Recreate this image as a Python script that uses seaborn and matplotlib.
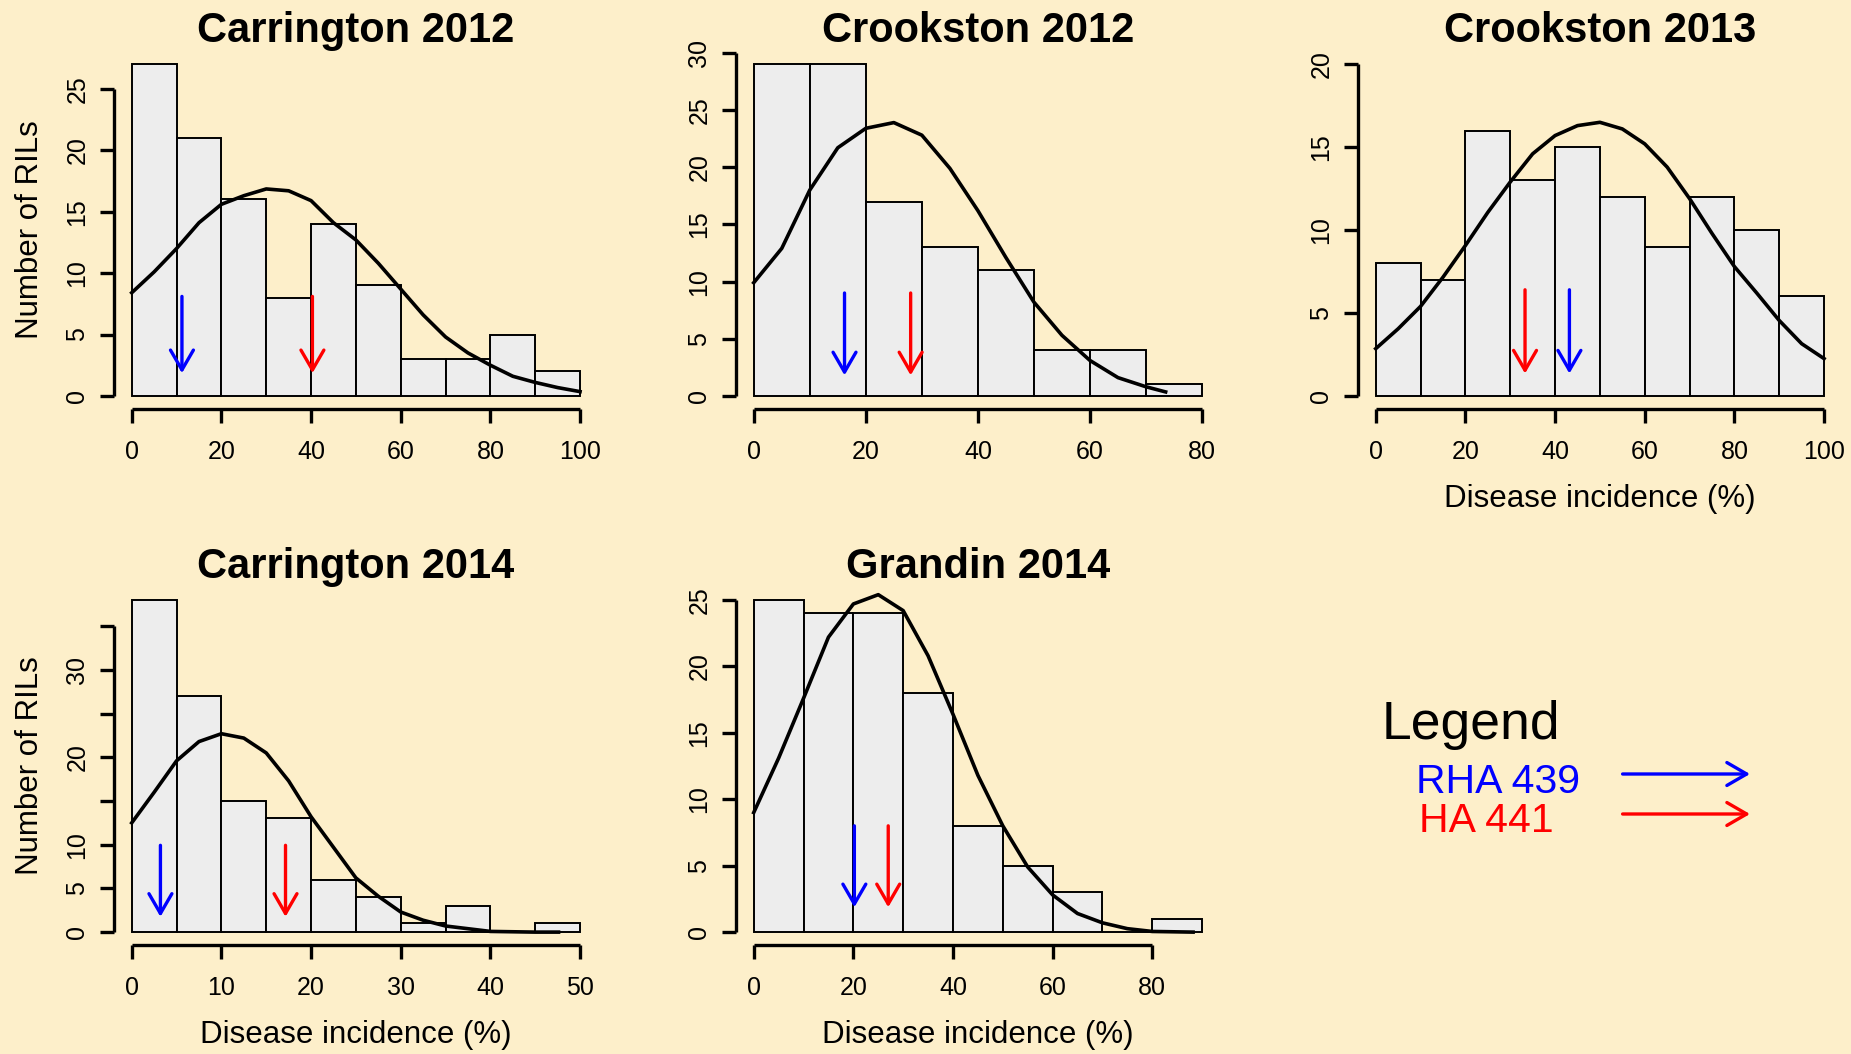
import matplotlib
matplotlib.use("Agg")
import matplotlib.pyplot as plt
import seaborn as sns

# ------------------------- data -------------------------
titles = ["Carrington 2012", "Crookston 2012", "Crookston 2013",
          "Carrington 2014", "Grandin 2014"]

# Carrington 2012
ca12_edges = [0, 10, 20, 30, 40, 50, 60, 70, 80, 90, 100]
ca12_counts = [27, 21, 16, 8, 14, 9, 3, 3, 5, 2]
ca12_curve_x = [0, 5, 10, 15, 20, 25, 30, 35, 40, 45, 50, 55, 60, 65, 70, 75, 80, 85, 90, 95, 100]
ca12_curve_y = [8.4, 10.1, 12.0, 14.1, 15.6, 16.3, 16.85, 16.7, 15.9, 14.1, 12.7, 10.8, 8.7, 6.6,
                4.8, 3.5, 2.5, 1.6, 1.1, 0.68, 0.35]
ca12_rha = 11.2
ca12_ha = 40.3
ca12_arrow_y = [8.1, 1.85]

# Crookston 2012
cr12_edges = [0, 10, 20, 30, 40, 50, 60, 70, 80]
cr12_counts = [29, 29, 17, 13, 11, 4, 4, 1]
cr12_curve_x = [0, 5, 10, 15, 20, 25, 30, 35, 40, 45, 50, 55, 60, 65, 70, 73.5]
cr12_curve_y = [9.9, 12.9, 18.0, 21.7, 23.4, 23.9, 22.8, 19.9, 16.2, 12.1, 8.2, 5.3, 3.1, 1.6, 0.8, 0.35]
cr12_rha = 16.2
cr12_ha = 28.0
cr12_arrow_y = [9.0, 1.8]

# Crookston 2013
cr13_edges = [0, 10, 20, 30, 40, 50, 60, 70, 80, 90, 100]
cr13_counts = [8, 7, 16, 13, 15, 12, 9, 12, 10, 6]
cr13_curve_x = [0, 5, 10, 15, 20, 25, 30, 35, 40, 45, 50, 55, 60, 65, 70, 75, 80, 85, 90, 95, 100]
cr13_curve_y = [2.85, 4.05, 5.4, 7.16, 9.07, 11.07, 12.9, 14.6, 15.7, 16.3, 16.5, 16.1, 15.2, 13.8,
                11.9, 9.8, 7.8, 6.2, 4.55, 3.15, 2.25]
cr13_rha = 43.2
cr13_ha = 33.3
cr13_arrow_y = [6.4, 1.35]

# Carrington 2014
ca14_edges = [0, 5, 10, 15, 20, 25, 30, 35, 40, 45, 50]
ca14_counts = [38, 27, 15, 13, 6, 4, 1, 3, 0, 1]
ca14_curve_x = [0, 2.5, 5, 7.5, 10, 12.5, 15, 17.5, 20, 22.5, 25, 27.5, 30, 32.5, 35, 37.5, 40, 45, 47.6]
ca14_curve_y = [12.5, 16.0, 19.6, 21.8, 22.7, 22.2, 20.5, 17.3, 13.2, 9.7, 6.2, 4.1, 2.3, 1.36,
                0.7, 0.39, 0.08, 0.0, 0.0]
ca14_rha = 3.2
ca14_ha = 17.15
ca14_arrow_y = [9.93, 1.75]

# Grandin 2014
gr14_edges = [0, 10, 20, 30, 40, 50, 60, 70, 80, 90]
gr14_counts = [25, 24, 24, 18, 8, 5, 3, 0, 1]
gr14_curve_x = [0, 5, 10, 15, 20, 25, 30, 35, 40, 45, 50, 55, 60, 65, 70, 75, 80, 88.2]
gr14_curve_y = [9.0, 13.1, 17.6, 22.2, 24.7, 25.4, 24.2, 20.8, 16.4, 11.8, 8.0, 4.9, 2.8, 1.4,
                0.7, 0.26, 0.05, 0.0]
gr14_rha = 20.2
gr14_ha = 27.0
gr14_arrow_y = [8.0, 1.87]

# axis ticks / ranges
y_tops = [27, 29, 20, 38, 25]
ca12_yticks = [0, 5, 10, 15, 20, 25]
cr12_yticks = [0, 5, 10, 15, 20, 25, 30]
cr13_yticks = [0, 5, 10, 15, 20]
ca14_yticks = [0, 5, 10, 15, 20, 25, 30, 35]
ca14_ylabels = ["0", "5", "10", "", "20", "", "30", ""]
gr14_yticks = [0, 5, 10, 15, 20, 25]
ca12_xticks = [0, 20, 40, 60, 80, 100]
cr12_xticks = [0, 20, 40, 60, 80]
cr13_xticks = [0, 20, 40, 60, 80, 100]
ca14_xticks = [0, 10, 20, 30, 40, 50]
gr14_xticks = [0, 20, 40, 60, 80]

y_label = "Number of RILs"
x_label = "Disease incidence (%)"
legend_title = "Legend"
legend_labels = ["RHA 439", "HA 441"]
legend_colors = ["blue", "red"]

# ------------------------- style -------------------------
BG = "#FDEFCA"
BAR = "#EDEDED"
plt.rcParams["font.family"] = ["Liberation Sans", "DejaVu Sans"]

W, H = 1851, 1054
fig = plt.figure(figsize=(W / 100, H / 100), dpi=100, facecolor=BG)

col_left = [113.8, 735.8, 1357.8]
col_w = 484.2
row_top = [51.0, 586.7]
row_h = [358.2, 358.7]


def make_ax(r, c):
    left = col_left[c] / W
    bottom = 1 - (row_top[r] + row_h[r]) / H
    ax = fig.add_axes([left, bottom, col_w / W, row_h[r] / H])
    ax.set_facecolor(BG)
    return ax


def arrow(ax, x, y0, y1, color):
    ax.annotate("", xy=(x, y1), xytext=(x, y0),
                arrowprops=dict(arrowstyle="->,head_length=0.95,head_width=0.55",
                                color=color, lw=2.4, shrinkA=0, shrinkB=0,
                                mutation_scale=15))


def panel(r, c, title, edges, counts, cx, cy, rha, ha, ay, ytop, yticks, xticks,
          ylabels=None, show_ylabel=False, show_xlabel=False):
    ax = make_ax(r, c)
    centers = [(a + b) / 2 for a, b in zip(edges[:-1], edges[1:])]
    sns.histplot(x=centers, weights=counts, bins=edges, ax=ax, color=BAR,
                 edgecolor="black", linewidth=1.4, alpha=1)
    sns.lineplot(x=cx, y=cy, ax=ax, color="black", linewidth=2.6,
                 sort=False, estimator=None)
    arrow(ax, rha, ay[0], ay[1], "blue")
    arrow(ax, ha, ay[0], ay[1], "red")

    xr = edges[-1] - edges[0]
    ax.set_xlim(edges[0] - 0.04 * xr, edges[-1] + 0.04 * xr)
    ax.set_ylim(-0.04 * ytop, 1.04 * ytop)
    ax.spines[["top", "right"]].set_visible(False)
    for s in ("left", "bottom"):
        ax.spines[s].set_linewidth(2.4)
        ax.spines[s].set_capstyle("butt")
    ax.spines["left"].set_bounds(yticks[0], yticks[-1])
    ax.spines["bottom"].set_bounds(xticks[0], xticks[-1])

    ax.set_xticks(xticks)
    ax.set_yticks(yticks, labels=ylabels if ylabels is not None else [str(v) for v in yticks])
    ax.tick_params(axis="both", length=10, width=2.4, labelsize=18, color="black")
    ax.tick_params(axis="x", pad=12)
    ax.tick_params(axis="y", pad=7.5)
    for lbl in ax.get_yticklabels():
        lbl.set_rotation(90)
        lbl.set_va("center")

    ax.set_title(title, fontsize=30, fontweight="bold", pad=2.8)
    if show_ylabel:
        ax.set_ylabel(y_label, fontsize=22.5)
        ax.yaxis.label.set_va("baseline")
        ax.yaxis.set_label_coords((37.6 - col_left[c]) / col_w, 0.5)
    else:
        ax.set_ylabel("")
    if show_xlabel:
        ax.set_xlabel(x_label, fontsize=22.5)
        ax.xaxis.label.set_va("baseline")
        ax.xaxis.set_label_coords(0.5, -97.5 / row_h[r])
    else:
        ax.set_xlabel("")
    return ax


panel(0, 0, titles[0], ca12_edges, ca12_counts, ca12_curve_x, ca12_curve_y,
      ca12_rha, ca12_ha, ca12_arrow_y, y_tops[0], ca12_yticks, ca12_xticks, show_ylabel=True)
panel(0, 1, titles[1], cr12_edges, cr12_counts, cr12_curve_x, cr12_curve_y,
      cr12_rha, cr12_ha, cr12_arrow_y, y_tops[1], cr12_yticks, cr12_xticks)
panel(0, 2, titles[2], cr13_edges, cr13_counts, cr13_curve_x, cr13_curve_y,
      cr13_rha, cr13_ha, cr13_arrow_y, y_tops[2], cr13_yticks, cr13_xticks, show_xlabel=True)
panel(1, 0, titles[3], ca14_edges, ca14_counts, ca14_curve_x, ca14_curve_y,
      ca14_rha, ca14_ha, ca14_arrow_y, y_tops[3], ca14_yticks, ca14_xticks,
      ylabels=ca14_ylabels, show_ylabel=True, show_xlabel=True)
panel(1, 1, titles[4], gr14_edges, gr14_counts, gr14_curve_x, gr14_curve_y,
      gr14_rha, gr14_ha, gr14_arrow_y, y_tops[4], gr14_yticks, gr14_xticks, show_xlabel=True)

# ------------------------- legend panel -------------------------
lax = fig.add_axes([0, 0, 1, 1])
lax.set_xlim(0, W)
lax.set_ylim(H, 0)
lax.axis("off")
lax.patch.set_alpha(0)
lax.text(1382, 739.3, legend_title, fontsize=38.5, ha="left", va="baseline")
lab_x = [1415.5, 1419]
lab_y = [792.7, 831.7]
arr_y = [774, 814]
for lab, col, lx, ly, yy in zip(legend_labels, legend_colors, lab_x, lab_y, arr_y):
    lax.text(lx, ly, lab, color=col, fontsize=29.5, ha="left", va="baseline")
    lax.annotate("", xy=(1750, yy), xytext=(1622.6, yy),
                 arrowprops=dict(arrowstyle="->,head_length=0.95,head_width=0.55",
                                 color=col, lw=2.4, shrinkA=0, shrinkB=0,
                                 mutation_scale=15))

fig.savefig("out.png", dpi=100, facecolor=BG)
